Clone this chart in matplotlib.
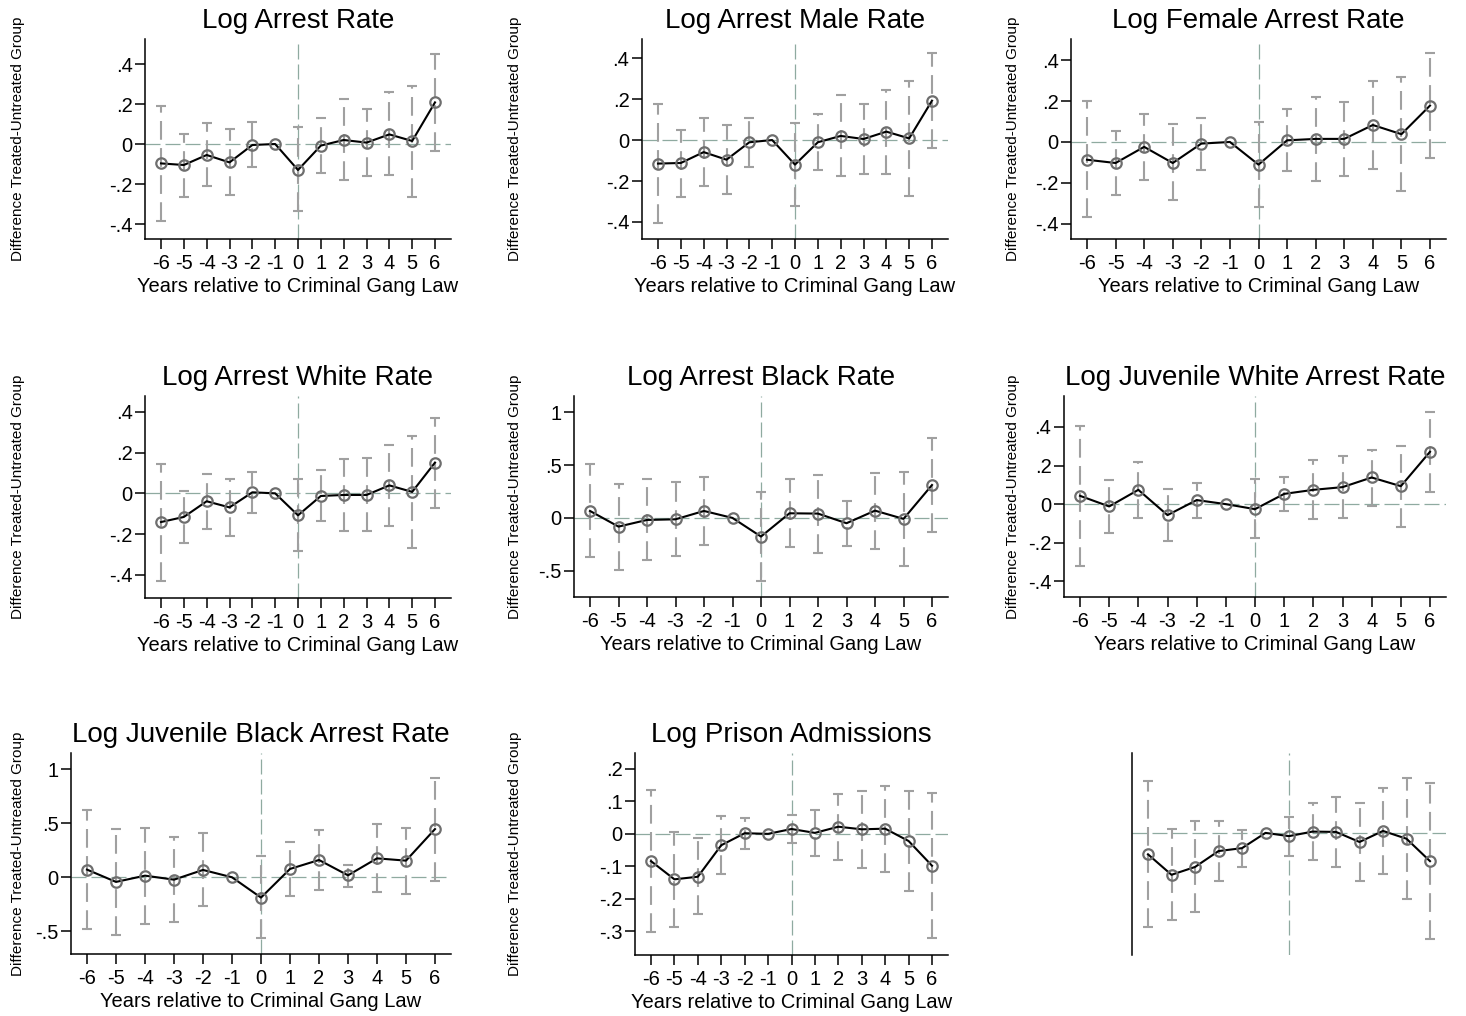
import numpy as np
import matplotlib
matplotlib.use("Agg")
import matplotlib.pyplot as plt

plt.rcParams['font.family'] = ['Liberation Sans', 'DejaVu Sans']

years = list(range(-6, 7))
ylabel = "Difference Treated-Untreated Group"
xlabel = "Years relative to Criminal Gang Law"

titles = ["Log Arrest Rate", "Log Arrest Male Rate", "Log Female Arrest Rate",
          "Log Arrest White Rate", "Log Arrest Black Rate", "Log Juvenile White Arrest Rate",
          "Log Juvenile Black Arrest Rate", "Log Prison Admissions", ""]

# point estimates and 95% CI bounds (year -1 is the omitted reference)
arrest_coef = [-0.097, -0.105, -0.055, -0.092, -0.005, 0, -0.13, -0.008, 0.02, 0.007, 0.048, 0.015, 0.208]
arrest_lo = [-0.385, -0.263, -0.21, -0.257, -0.117, None, -0.337, -0.147, -0.18, -0.158, -0.157, -0.263, -0.033]
arrest_hi = [0.19, 0.048, 0.107, 0.077, 0.108, None, 0.083, 0.132, 0.223, 0.175, 0.26, 0.292, 0.452]

male_coef = [-0.115, -0.112, -0.059, -0.096, -0.011, 0, -0.12, -0.011, 0.02, 0.005, 0.041, 0.008, 0.192]
male_lo = [-0.407, -0.278, -0.226, -0.265, -0.132, None, -0.324, -0.145, -0.177, -0.167, -0.164, -0.275, -0.041]
male_hi = [0.174, 0.05, 0.109, 0.072, 0.107, None, 0.081, 0.125, 0.218, 0.176, 0.246, 0.29, 0.424]

female_coef = [-0.087, -0.103, -0.024, -0.103, -0.008, 0, -0.111, 0.008, 0.015, 0.015, 0.083, 0.038, 0.178]
female_lo = [-0.369, -0.261, -0.184, -0.286, -0.137, None, -0.318, -0.142, -0.191, -0.168, -0.131, -0.24, -0.077]
female_hi = [0.202, 0.056, 0.136, 0.087, 0.118, None, 0.096, 0.16, 0.22, 0.198, 0.30, 0.318, 0.434]

white_coef = [-0.141, -0.116, -0.039, -0.069, 0.005, 0, -0.108, -0.013, -0.008, -0.008, 0.039, 0.007, 0.151]
white_lo = [-0.432, -0.245, -0.173, -0.208, -0.097, None, -0.285, -0.137, -0.185, -0.187, -0.16, -0.268, -0.07]
white_hi = [0.146, 0.011, 0.097, 0.069, 0.105, None, 0.069, 0.116, 0.169, 0.173, 0.236, 0.282, 0.37]

black_coef = [0.066, -0.082, -0.019, -0.013, 0.066, 0, -0.176, 0.044, 0.041, -0.05, 0.069, -0.009, 0.311]
black_lo = [-0.37, -0.49, -0.398, -0.361, -0.26, None, -0.6, -0.279, -0.33, -0.264, -0.289, -0.452, -0.135]
black_hi = [0.505, 0.323, 0.364, 0.339, 0.383, None, 0.248, 0.364, 0.408, 0.163, 0.427, 0.436, 0.753]

juv_white_coef = [0.043, -0.012, 0.074, -0.057, 0.021, 0, -0.026, 0.053, 0.074, 0.088, 0.138, 0.093, 0.271]
juv_white_lo = [-0.321, -0.147, -0.071, -0.191, -0.071, None, -0.178, -0.036, -0.079, -0.071, -0.009, -0.116, 0.064]
juv_white_hi = [0.407, 0.124, 0.216, 0.079, 0.112, None, 0.131, 0.143, 0.229, 0.25, 0.281, 0.303, 0.478]

juv_black_coef = [0.071, -0.043, 0.015, -0.022, 0.068, 0, -0.188, 0.077, 0.16, 0.018, 0.175, 0.154, 0.446]
juv_black_lo = [-0.48, -0.535, -0.433, -0.415, -0.27, None, -0.563, -0.175, -0.117, -0.086, -0.135, -0.151, -0.034]
juv_black_hi = [0.621, 0.449, 0.458, 0.375, 0.406, None, 0.197, 0.326, 0.433, 0.114, 0.489, 0.452, 0.919]

prison_coef = [-0.084, -0.14, -0.132, -0.035, 0.002, 0, 0.015, 0.003, 0.022, 0.014, 0.016, -0.022, -0.098]
prison_lo = [-0.301, -0.287, -0.248, -0.124, -0.048, None, -0.028, -0.069, -0.079, -0.106, -0.116, -0.177, -0.322]
prison_hi = [0.134, 0.005, -0.013, 0.055, 0.05, None, 0.059, 0.074, 0.122, 0.132, 0.147, 0.133, 0.126]

extra_coef = [-0.066, -0.129, -0.105, -0.056, -0.047, 0, -0.01, 0.004, 0.003, -0.028, 0.006, -0.018, -0.087]
extra_lo = [-0.289, -0.269, -0.245, -0.149, -0.106, None, -0.071, -0.084, -0.105, -0.148, -0.126, -0.205, -0.326]
extra_hi = [0.159, 0.012, 0.036, 0.036, 0.01, None, 0.049, 0.091, 0.109, 0.091, 0.137, 0.169, 0.153]

coefs = [arrest_coef, male_coef, female_coef, white_coef, black_coef,
         juv_white_coef, juv_black_coef, prison_coef, extra_coef]
los = [arrest_lo, male_lo, female_lo, white_lo, black_lo,
       juv_white_lo, juv_black_lo, prison_lo, extra_lo]
his = [arrest_hi, male_hi, female_hi, white_hi, black_hi,
       juv_white_hi, juv_black_hi, prison_hi, extra_hi]

ytick_vals = [[-0.4, -0.2, 0, 0.2, 0.4]] * 4 + [[-0.5, 0, 0.5, 1]] + [[-0.4, -0.2, 0, 0.2, 0.4]] \
    + [[-0.5, 0, 0.5, 1]] + [[-0.3, -0.2, -0.1, 0, 0.1, 0.2]] + [[]]
ytick_labels = [["-.4", "-.2", "0", ".2", ".4"]] * 4 + [["-.5", "0", ".5", "1"]] \
    + [["-.4", "-.2", "0", ".2", ".4"]] + [["-.5", "0", ".5", "1"]] \
    + [["-.3", "-.2", "-.1", "0", ".1", ".2"]] + [[]]
ylims = [(-0.475, 0.525), (-0.483, 0.493), (-0.475, 0.504),
         (-0.514, 0.478), (-0.747, 1.152), (-0.481, 0.56),
         (-0.71, 1.15), (-0.373, 0.249), (-0.376, 0.246)]

# plot boxes in pixels: left, right, top, bottom
boxes = [(145, 451, 39, 239), (642, 948, 39, 239), (1071, 1446, 39, 239),
         (145, 451, 396, 598), (574, 948, 396, 597), (1064, 1446, 396, 597),
         (71, 451, 753, 954), (635, 948, 753, 955), (1132, 1446, 753, 955)]
ylabel_x = [18, 515, 1013]

W, H = 1466, 1016
fig = plt.figure(figsize=(W / 100, H / 100), dpi=100)

ref_color = '#8FAAA0'
bar_color = '#A0A0A0'

for i in range(9):
    l, r, t, b = boxes[i]
    ax = fig.add_axes([l / W, 1 - b / H, (r - l) / W, (b - t) / H])
    coef = np.array(coefs[i], dtype=float)
    lo = np.array(los[i], dtype=float)
    hi = np.array(his[i], dtype=float)
    x = np.array(years)

    ax.axhline(0, color=ref_color, lw=0.9, ls=(0, (12, 4)), zorder=1)
    ax.axvline(0, color=ref_color, lw=0.9, ls=(0, (12, 4)), zorder=1)

    ok = ~np.isnan(lo)
    eb = ax.errorbar(x[ok], coef[ok], yerr=[coef[ok] - lo[ok], hi[ok] - coef[ok]],
                     fmt='none', ecolor=bar_color, elinewidth=1.5, capsize=3.8,
                     capthick=1.5, zorder=2)
    eb[2][0].set_linestyle((0, (9, 4)))

    ax.plot(x, coef, color='black', lw=1.5, marker='o', markersize=7.5,
            mfc='none', mec='#6E6E6E', mew=1.6, zorder=3)

    sp = (r - l - 32) / 12
    ax.set_xlim(-6 - 16 / sp, 6 + 16 / sp)
    ax.set_ylim(*ylims[i])

    for s in ['top', 'right']:
        ax.spines[s].set_visible(False)
    ax.spines['left'].set_linewidth(1.1)
    ax.spines['bottom'].set_linewidth(1.1)

    if i == 8:
        ax.spines['bottom'].set_visible(False)
        ax.set_xticks([])
        ax.set_yticks([])
        continue

    ax.set_xticks(years)
    ax.set_xticklabels([str(v) for v in years])
    ax.set_yticks(ytick_vals[i])
    ax.set_yticklabels(ytick_labels[i])
    ax.tick_params(axis='both', direction='out', length=7, width=1.1,
                   labelsize=14.5, colors='black')
    ax.tick_params(axis='y', pad=2)
    ax.tick_params(axis='x', pad=4)
    ax.set_xlabel(xlabel, fontsize=14.5, labelpad=3)
    ax.set_title(titles[i], fontsize=20, pad=8)

    fig.text(ylabel_x[i % 3] / W, 1 - (t + b) / 2 / H, ylabel, rotation=90,
             ha='center', va='center', fontsize=11)

fig.savefig("out.png", dpi=100)
